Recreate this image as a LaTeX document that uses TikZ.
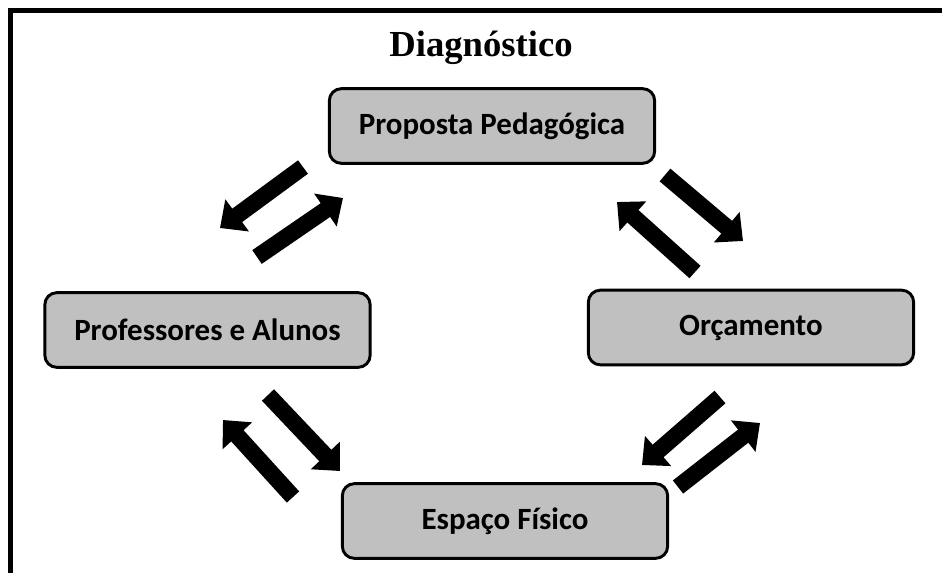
\documentclass[tikz,border=0pt]{standalone}
\usepackage{fontspec}
\setmainfont{Liberation Serif}
\newfontfamily\boxfont{Carlito}
\usetikzlibrary{arrows.meta}
\begin{document}
\begin{tikzpicture}[x=0.75pt, y=-0.75pt,
    etapa/.style={draw, line width=2.2pt, rounded corners=9pt, fill=boxgray,
        minimum width=244pt, minimum height=56pt, inner sep=0pt,
        font=\boxfont\fontsize{23.2}{26}\selectfont\bfseries},
    seta/.style={line width=12.5pt, -{Triangle[length=16pt, width=29pt]}}]
    \definecolor{boxgray}{RGB}{192,192,192}
    \useasboundingbox (0,0) rectangle (942,572);

    \draw[line width=3.8pt] (10.5,575) -- (10.5,10.5) -- (945,10.5);
    \node[font=\fontsize{27.5}{30}\selectfont\bfseries] (titulo) at (481,48) {Diagnóstico};

    \node[etapa] (proposta) at (492,126) {Proposta Pedagógica};
    \node[etapa] (professores) at (207.5,330) {Professores e Alunos};
    \node[etapa] (orcamento) at (751,327.5) {Orçamento};
    \node[etapa] (espaco) at (505,521) {Espaço Físico};

    \coordinate (pp1) at (303,167);
    \coordinate (pp2) at (220,228);
    \coordinate (pp3) at (257,257);
    \coordinate (pp4) at (343,198);
    \coordinate (po1) at (665,175);
    \coordinate (po2) at (743,241);
    \coordinate (po3) at (695,272);
    \coordinate (po4) at (617,202);
    \coordinate (pe1) at (268,395);
    \coordinate (pe2) at (340,471);
    \coordinate (pe3) at (293,497);
    \coordinate (pe4) at (223,420);
    \coordinate (oe1) at (720,397);
    \coordinate (oe2) at (642,465);
    \coordinate (oe3) at (678,487);
    \coordinate (oe4) at (760,423);

    \draw[seta] (pp1) -- (pp2);
    \draw[seta] (pp3) -- (pp4);
    \draw[seta] (po1) -- (po2);
    \draw[seta] (po3) -- (po4);
    \draw[seta] (pe1) -- (pe2);
    \draw[seta] (pe3) -- (pe4);
    \draw[seta] (oe1) -- (oe2);
    \draw[seta] (oe3) -- (oe4);
\end{tikzpicture}
\end{document}
